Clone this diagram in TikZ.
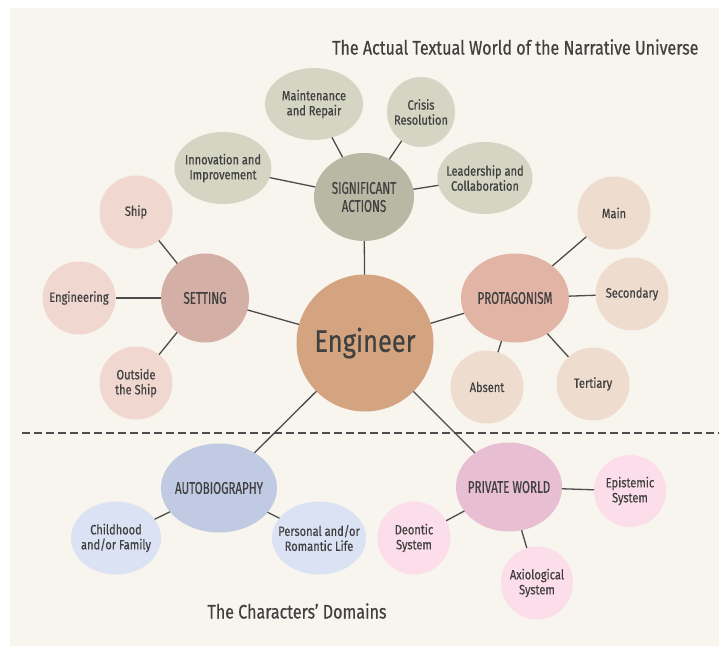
\documentclass[tikz,border=0pt]{standalone}
\usepackage{fontspec}
\setmainfont{Fira Sans}[FakeStretch=0.82, FakeBold=0.5]
\newfontfamily\capsfont{Fira Sans}[FakeStretch=0.68, FakeBold=0.5]
\usetikzlibrary{shapes.geometric}
\definecolor{bgc}{HTML}{F8F4EE}
\definecolor{txt}{HTML}{404040}
\definecolor{lnc}{HTML}{4C4C4C}
\definecolor{engc}{HTML}{D4A37F}
\definecolor{sahub}{HTML}{B9B8A4}
\definecolor{saleaf}{HTML}{D5D5C3}
\definecolor{sethub}{HTML}{D3AFA6}
\definecolor{setleaf}{HTML}{F0D7D0}
\definecolor{prohub}{HTML}{E2B4A5}
\definecolor{proleaf}{HTML}{EEDCCE}
\definecolor{autohub}{HTML}{C0CBE3}
\definecolor{autoleaf}{HTML}{DAE2F3}
\definecolor{privhub}{HTML}{E8BFD2}
\definecolor{privleaf}{HTML}{FCDDEA}
\tikzset{
  bubble/.style={ellipse, inner sep=-14pt, outer sep=0pt, draw=none, text=txt, align=center},
  leaf/.style={bubble, font=\fontsize{13.5}{15}\selectfont},
  hub/.style={bubble, font=\capsfont\fontsize{17}{18}\selectfont},
  link/.style={draw=lnc, line width=1.3pt},
}
\begin{document}
\begin{tikzpicture}[x=1pt,y=-1pt]
\useasboundingbox (0,0) rectangle (719,646);
\fill[white] (0,0) rectangle (719,646);
\fill[bgc] (10,8) rectangle (719,646);
\draw[lnc, line width=2.7pt, dash pattern=on 8pt off 4pt] (22,433) -- (719,433);

\node[txt, font=\fontsize{19.6}{21}\selectfont, anchor=east] (title1) at (702,47) {The Actual Textual World of the Narrative Universe};
\node[txt, font=\fontsize{19.6}{21}\selectfont] (title2) at (297,611) {The Characters' Domains};

\node[bubble, fill=engc, minimum width=137pt, minimum height=137pt, font=\fontsize{31}{33}\selectfont] (eng) at (365,343) {Engineer};

\node[hub, fill=sahub, minimum width=100pt, minimum height=88pt] (sa) at (364,197) {SIGNIFICANT\\ACTIONS};
\node[leaf, fill=saleaf, minimum width=98pt, minimum height=72pt] (mr) at (314,104) {Maintenance\\and Repair};
\node[leaf, fill=saleaf, minimum width=68pt, minimum height=70pt] (cr) at (421,112) {Crisis\\Resolution};
\node[leaf, fill=saleaf, minimum width=97pt, minimum height=72pt] (ii) at (223,168) {Innovation and\\Improvement};
\node[leaf, fill=saleaf, minimum width=95pt, minimum height=72pt] (lc) at (485,178) {Leadership and\\Collaboration};

\node[hub, fill=sethub, minimum width=88pt, minimum height=89pt] (set) at (205,298) {SETTING};
\node[leaf, fill=setleaf, minimum width=73pt, minimum height=73pt] (ship) at (136,212) {Ship};
\node[leaf, fill=setleaf, minimum width=73pt, minimum height=73pt] (engg) at (79,298) {Engineering};
\node[leaf, fill=setleaf, minimum width=73pt, minimum height=73pt] (out) at (136,383) {Outside\\the Ship};

\node[hub, fill=prohub, minimum width=108pt, minimum height=89pt] (pro) at (515,298) {PROTAGONISM};
\node[leaf, fill=proleaf, minimum width=73pt, minimum height=73pt] (main) at (614,213) {Main};
\node[leaf, fill=proleaf, minimum width=73pt, minimum height=73pt] (sec) at (632,294) {Secondary};
\node[leaf, fill=proleaf, minimum width=73pt, minimum height=73pt] (ter) at (593,384) {Tertiary};
\node[leaf, fill=proleaf, minimum width=73pt, minimum height=73pt] (abs) at (487,387) {Absent};

\node[hub, fill=autohub, minimum width=116pt, minimum height=89pt] (auto) at (219,488) {AUTOBIOGRAPHY};
\node[leaf, fill=autoleaf, minimum width=90pt, minimum height=73pt] (child) at (116,538) {Childhood\\and/or Family};
\node[leaf, fill=autoleaf, minimum width=94pt, minimum height=73pt] (pers) at (319,538) {Personal and/or\\Romantic Life};

\node[hub, fill=privhub, minimum width=106pt, minimum height=89pt] (priv) at (509,487) {PRIVATE WORLD};
\node[leaf, fill=privleaf, minimum width=73pt, minimum height=73pt] (deon) at (414,538) {Deontic\\System};
\node[leaf, fill=privleaf, minimum width=72pt, minimum height=72pt] (epis) at (630,491) {Epistemic\\System};
\node[leaf, fill=privleaf, minimum width=72pt, minimum height=73pt] (axio) at (537,583) {Axiological\\System};

\draw[link] (eng) -- (sa);
\draw[link] (eng) -- (set);
\draw[link] (eng) -- (pro);
\draw[link] (eng) -- (auto);
\draw[link] (eng) -- (priv);
\draw[link] (sa) -- (mr);
\draw[link] (sa) -- (cr);
\draw[link] (sa) -- (ii);
\draw[link] (sa) -- (lc);
\draw[link] (set) -- (ship);
\draw[link] (set) -- (engg);
\draw[link] (set) -- (out);
\draw[link] (pro) -- (main);
\draw[link] (pro) -- (sec);
\draw[link] (pro) -- (ter);
\draw[link] (pro) -- (abs);
\draw[link] (auto) -- (child);
\draw[link] (auto) -- (pers);
\draw[link] (priv) -- (deon);
\draw[link] (priv) -- (epis);
\draw[link] (priv) -- (axio);
\end{tikzpicture}
\end{document}
